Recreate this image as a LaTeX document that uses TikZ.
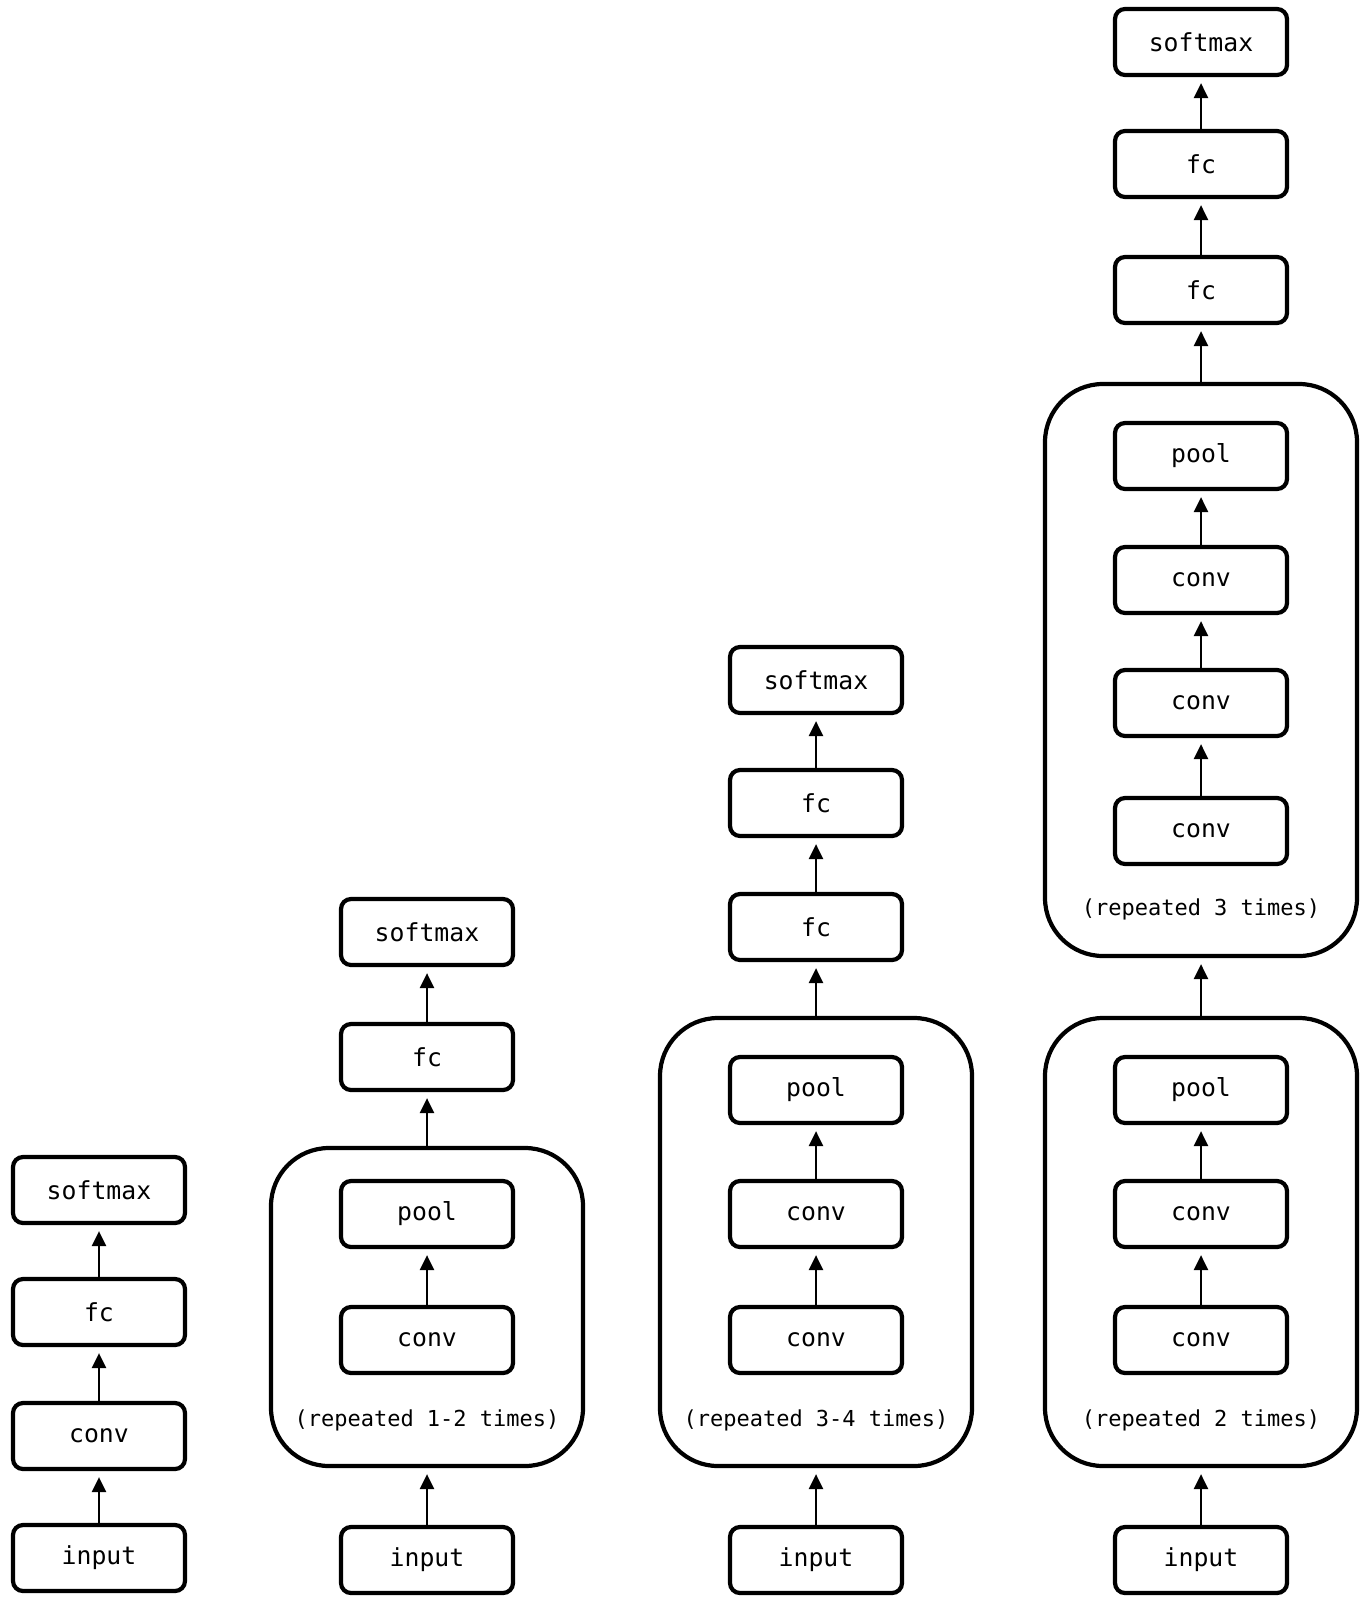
\documentclass[tikz,border=0pt]{standalone}
\usepackage{fontspec}
\setmonofont{DejaVu Sans Mono}
\usetikzlibrary{arrows.meta}
\begin{document}
\begin{tikzpicture}[x=0.5pt,y=-0.5pt,
  layer/.style={draw, line width=2.1pt, rounded corners=5pt, minimum width=86pt, minimum height=33pt, inner sep=0pt, font=\fontsize{12.4}{14}\selectfont\ttfamily},
  group/.style={draw, line width=2.1pt, rounded corners=29pt, minimum width=156pt, inner sep=0pt},
  rep/.style={font=\fontsize{11}{13}\selectfont\ttfamily, inner sep=0pt},
  arr/.style={-{Triangle[length=7.5pt,width=7pt]}, line width=1.2pt, shorten >=3pt}]
\useasboundingbox (0,0) rectangle (1368,1600);
% column 1
\node[layer] (a1) at (99,1558) {input};
\node[layer] (a2) at (99,1436) {conv};
\node[layer] (a3) at (99,1312) {fc};
\node[layer] (a4) at (99,1190) {softmax};
\draw[arr] (a1.north) -- (a2.south);
\draw[arr] (a2.north) -- (a3.south);
\draw[arr] (a3.north) -- (a4.south);
% column 2
\node[group, minimum height=159pt] (bg) at (427,1307) {};
\node[layer] (b1) at (427,1560) {input};
\node[layer] (b2) at (427,1340) {conv};
\node[layer] (b3) at (427,1214) {pool};
\node[rep] (bl) at (427,1420) {(repeated 1-2 times)};
\node[layer] (b4) at (427,1057) {fc};
\node[layer] (b5) at (427,932) {softmax};
\draw[arr] (b1.north) -- (bg.south);
\draw[arr] (b2.north) -- (b3.south);
\draw[arr] (bg.north) -- (b4.south);
\draw[arr] (b4.north) -- (b5.south);
% column 3
\node[group, minimum height=224pt] (cg) at (816,1242) {};
\node[layer] (c1) at (816,1560) {input};
\node[layer] (c2) at (816,1340) {conv};
\node[layer] (c3) at (816,1214) {conv};
\node[layer] (c4) at (816,1090) {pool};
\node[rep] (cl) at (816,1420) {(repeated 3-4 times)};
\node[layer] (c5) at (816,927) {fc};
\node[layer] (c6) at (816,803) {fc};
\node[layer] (c7) at (816,680) {softmax};
\draw[arr] (c1.north) -- (cg.south);
\draw[arr] (c2.north) -- (c3.south);
\draw[arr] (c3.north) -- (c4.south);
\draw[arr] (cg.north) -- (c5.south);
\draw[arr] (c5.north) -- (c6.south);
\draw[arr] (c6.north) -- (c7.south);
% column 4
\node[group, minimum height=224pt] (dg) at (1201,1242) {};
\node[layer] (d1) at (1201,1560) {input};
\node[layer] (d2) at (1201,1340) {conv};
\node[layer] (d3) at (1201,1214) {conv};
\node[layer] (d4) at (1201,1090) {pool};
\node[rep] (dl) at (1201,1420) {(repeated 2 times)};
\node[group, minimum height=286pt] (eg) at (1201,670) {};
\node[layer] (e1) at (1201,831) {conv};
\node[layer] (e2) at (1201,703) {conv};
\node[layer] (e3) at (1201,580) {conv};
\node[layer] (e4) at (1201,456) {pool};
\node[rep] (el) at (1201,909) {(repeated 3 times)};
\node[layer] (f1) at (1201,290) {fc};
\node[layer] (f2) at (1201,164) {fc};
\node[layer] (f3) at (1201,42) {softmax};
\draw[arr] (d1.north) -- (dg.south);
\draw[arr] (d2.north) -- (d3.south);
\draw[arr] (d3.north) -- (d4.south);
\draw[arr] (dg.north) -- (eg.south);
\draw[arr] (e1.north) -- (e2.south);
\draw[arr] (e2.north) -- (e3.south);
\draw[arr] (e3.north) -- (e4.south);
\draw[arr] (eg.north) -- (f1.south);
\draw[arr] (f1.north) -- (f2.south);
\draw[arr] (f2.north) -- (f3.south);
\end{tikzpicture}
\end{document}
